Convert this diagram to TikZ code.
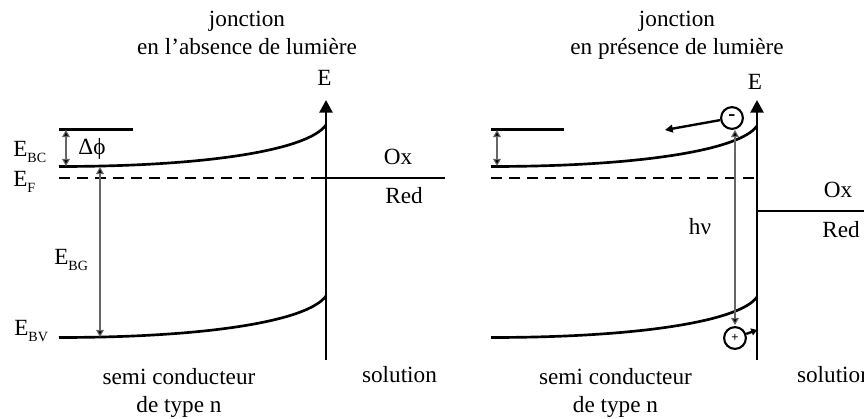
\documentclass[tikz,border=0pt]{standalone}
\usepackage{fontspec}
\setmainfont{Liberation Serif}
\usetikzlibrary{arrows.meta}
\newcommand{\lowsub}[1]{\raisebox{-3.6pt}{\fontsize{10pt}{10pt}\selectfont #1}}
\tikzset{
	txt/.style={inner sep=0pt, anchor=base, align=center, font=\fontsize{16.5pt}{20.5pt}\selectfont},
	band/.style={line width=1.9pt},
	fermi/.style={band, dash pattern={on 7.8pt off 5pt}},
	fine/.style={line width=0.8pt, draw=black!60, {Triangle[length=5pt,width=5.5pt,fill=black]}-{Triangle[length=5pt,width=5.5pt,fill=black]}},
	axis/.style={line width=1.9pt, -{Triangle[length=9pt,width=9.2pt]}},
	carrier/.style={circle, draw, line width=1.5pt, minimum size=15.5pt, inner sep=0pt, font=\bfseries\fontsize{9pt}{9pt}\selectfont},
	move/.style={line width=1.7pt, -{Triangle[length=5.5pt,width=5.5pt]}}
}
\begin{document}
\begin{tikzpicture}[x=0.025cm, y=-0.025cm]
	\useasboundingbox (0, 0) rectangle (864, 419);
	% left junction, no light
	\coordinate (ltop) at (326, 100);
	\coordinate (lbot) at (326, 360);
	\coordinate (lbcs) at (59, 166.5);
	\coordinate (lbce) at (326, 125);
	\coordinate (lbvs) at (59, 337.5);
	\coordinate (lbve) at (326, 296);
	\coordinate (ltops) at (59, 129.5);
	\coordinate (ltope) at (133, 129.5);
	\coordinate (lfs) at (59, 178);
	\coordinate (lfe) at (326, 178);
	\coordinate (loxs) at (316, 178);
	\coordinate (loxe) at (445, 178);
	\draw[axis] (lbot) -- (ltop);
	\draw[band] (ltops) -- (ltope);
	\draw[band] (lbcs) .. controls (208, 166.5) and (308, 150) .. (lbce);
	\draw[band] (lbvs) .. controls (208, 337.5) and (308, 321) .. (lbve);
	\draw[fermi] (lfs) -- (lfe);
	\draw[band] (loxs) -- (loxe);
	\draw[fine] (66, 130) -- (66, 166);
	\draw[fine] (100, 167) -- (100, 337);
	\node[txt] (lE) at (324.5, 86) {E};
	\node[txt] (lOx) at (398, 165) {Ox};
	\node[txt] (lRed) at (404, 204) {Red};
	\node[txt] (dphi) at (92, 155) {Δϕ};
	\node[txt, anchor=base west] (EBC) at (13, 157) {E\lowsub{BC}};
	\node[txt, anchor=base west] (EF) at (13, 187) {E\lowsub{F}};
	\node[txt, anchor=base west] (EBG) at (54, 265) {E\lowsub{BG}};
	\node[txt, anchor=base west] (EBV) at (14, 336) {E\lowsub{BV}};
	\node[txt] (ltitle) at (247, 55) {jonction\\en l'absence de lumière};
	\node[txt] (lsemi) at (179, 413) {semi conducteur\\de type n};
	\node[txt] (lsol) at (399.5, 383) {solution};
	% right junction, under light
	\coordinate (rtop) at (757, 100);
	\coordinate (rbot) at (757, 360);
	\coordinate (rbcs) at (491, 166.5);
	\coordinate (rbce) at (757, 126);
	\coordinate (rbvs) at (491, 337.5);
	\coordinate (rbve) at (757, 297);
	\coordinate (rtops) at (491, 129.5);
	\coordinate (rtope) at (564, 129.5);
	\coordinate (rfs) at (491, 178);
	\coordinate (rfe) at (757, 178);
	\coordinate (roxs) at (757, 211);
	\coordinate (roxe) at (864, 211);
	\draw[axis] (rbot) -- (rtop);
	\draw[band] (rtops) -- (rtope);
	\draw[band] (rbcs) .. controls (640, 166.5) and (740, 150) .. (rbce);
	\draw[band] (rbvs) .. controls (640, 337.5) and (740, 321) .. (rbve);
	\draw[fermi] (rfs) -- (rfe);
	\draw[band] (roxs) -- (roxe);
	\draw[fine] (497, 130) -- (497, 166);
	\node[carrier, font=\bfseries\fontsize{15pt}{15pt}\selectfont] (minus) at (732, 118) {-};
	\node[carrier] (plus) at (735, 338) {+};
	\coordinate (hvt) at (735, 130);
	\coordinate (hvb) at (735, 325);
	\coordinate (eend) at (665, 130);
	\coordinate (hend) at (757, 330);
	\draw[fine] (hvt) -- (hvb);
	\draw[move] (minus) -- (eend);
	\draw[move, -{Triangle[length=4pt,width=5pt]}] (plus) -- (hend);
	\node[txt] (rE) at (755, 90) {E};
	\node[txt] (rOx) at (838, 198) {Ox};
	\node[txt] (rRed) at (841, 238) {Red};
	\node[txt] (hv) at (700, 235) {hν};
	\node[txt] (rtitle) at (677, 55) {jonction\\en présence de lumière};
	\node[txt] (rsemi) at (615.5, 413) {semi conducteur\\de type n};
	\node[txt] (rsol) at (834.5, 383) {solution};
\end{tikzpicture}
\end{document}
